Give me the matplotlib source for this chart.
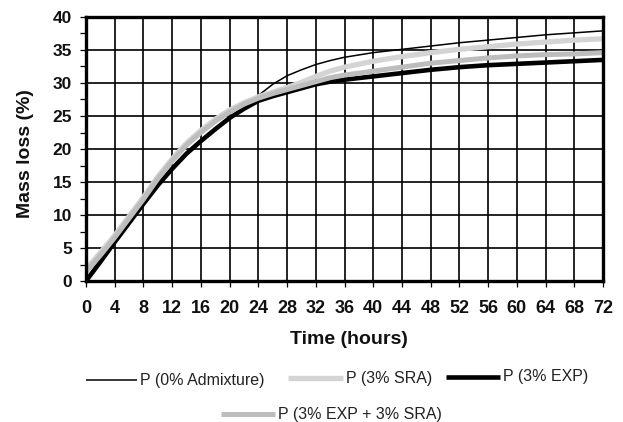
import matplotlib
matplotlib.use("Agg")
import matplotlib.pyplot as plt
from matplotlib.lines import Line2D
from matplotlib.ticker import MultipleLocator

plt.rcParams["font.family"] = ["Liberation Sans", "DejaVu Sans"]

# Sampling times (hours)
time_h = [0, 2, 4, 6, 8, 10, 12, 14, 16, 18, 20, 22, 24, 26, 28, 30, 32, 34, 36,
          40, 44, 48, 52, 56, 60, 64, 68, 72]

# Mass loss (%) per mixture
p_0_admix = [1.5, 4.1, 6.6, 9.5, 12.4, 15.4, 18.1, 20.5, 22.5, 24.2, 25.7, 26.9, 28.1,
             29.8, 31.1, 32.0, 32.8, 33.4, 33.9, 34.6, 35.1, 35.6, 36.1, 36.5, 36.9,
             37.3, 37.6, 37.9]
p_3_sra = [1.8, 4.3, 6.9, 9.8, 12.7, 15.8, 18.5, 20.9, 22.8, 24.5, 25.9, 27.0, 27.9,
           28.6, 29.3, 30.1, 31.0, 31.8, 32.4, 33.3, 34.0, 34.6, 35.1, 35.5, 35.9,
           36.2, 36.5, 36.7]
p_3_exp = [0, 2.9, 5.9, 8.8, 11.7, 14.5, 17.0, 19.3, 21.2, 23.0, 24.7, 26.1, 27.3,
           28.0, 28.6, 29.2, 29.8, 30.2, 30.5, 31.0, 31.5, 32.0, 32.4, 32.7, 32.9,
           33.1, 33.3, 33.5]
p_3_exp_sra = [1.4, 3.9, 6.6, 9.5, 12.4, 15.5, 18.2, 20.6, 22.5, 24.2, 25.6, 26.8, 27.7,
               28.4, 29.0, 29.6, 30.2, 30.8, 31.2, 31.8, 32.4, 33.0, 33.4, 33.8, 34.1,
               34.3, 34.4, 34.6]

x_ticks = list(range(0, 73, 4))
series_labels = ["P (0% Admixture)", "P (3% SRA)", "P (3% EXP)", "P (3% EXP + 3% SRA)"]

W, H = 623, 422
fig = plt.figure(figsize=(W / 100, H / 100), dpi=100)
ax = fig.add_axes([86 / W, 1 - 281 / H, 517 / W, 264 / H])

styles = {
    "thin": dict(color="black", lw=1.1),
    "sra": dict(color="#d4d4d4", lw=3.8),
    "exp": dict(color="black", lw=3.3),
    "expsra": dict(color="#bdbdbd", lw=3.6),
}

ax.plot(time_h, p_3_exp, solid_capstyle="butt", zorder=3, **styles["exp"])
ax.plot(time_h, p_0_admix, zorder=4, **styles["thin"])
ax.plot(time_h, p_3_sra, solid_capstyle="butt", zorder=5, **styles["sra"])
ax.plot(time_h, p_3_exp_sra, solid_capstyle="butt", zorder=6, **styles["expsra"])

ax.set_xlim(0, 72)
ax.set_ylim(0, 40)
ax.set_xticks(x_ticks)
ax.yaxis.set_major_locator(MultipleLocator(5))
ax.yaxis.set_minor_locator(MultipleLocator(2.5))
ax.grid(True, which="major", color="black", lw=1.2)
ax.set_axisbelow(True)
for s in ax.spines.values():
    s.set_linewidth(2.4)
    s.set_zorder(10)

ax.tick_params(axis="x", direction="out", length=4, width=0.9, pad=10,
               labelsize=13)
ax.tick_params(axis="y", which="both", direction="out", length=4, width=0.9, pad=6,
               labelsize=12.5)
for lab in ax.get_xticklabels() + ax.get_yticklabels():
    lab.set_fontweight("bold")
    lab.set_color("#111111")

ax.set_xlabel("Time (hours)", fontsize=14, fontweight="bold", color="#111111")
ax.xaxis.set_label_coords((349 - 86) / 517, (281 - 331) / 264)
ax.set_ylabel("Mass loss (%)", fontsize=14, fontweight="bold", color="#111111")
ax.yaxis.set_label_coords((34 - 86) / 517, (281 - 154) / 264)


def legend_entry(x0, x1, y, text, style):
    fig.add_artist(Line2D([x0 / W, x1 / W], [1 - y / H, 1 - y / H],
                          transform=fig.transFigure, solid_capstyle="butt", **style))
    fig.text((x1 + 3) / W, 1 - y / H, text, fontsize=11.5, va="center", ha="left",
             color="#222222")


legend_entry(86, 137, 380, series_labels[0], styles["thin"])
legend_entry(288, 343, 378, series_labels[1], styles["sra"])
legend_entry(446, 500, 377, series_labels[2], styles["exp"])
legend_entry(221, 275, 414, series_labels[3], styles["expsra"])

fig.savefig("out.png", dpi=100)
